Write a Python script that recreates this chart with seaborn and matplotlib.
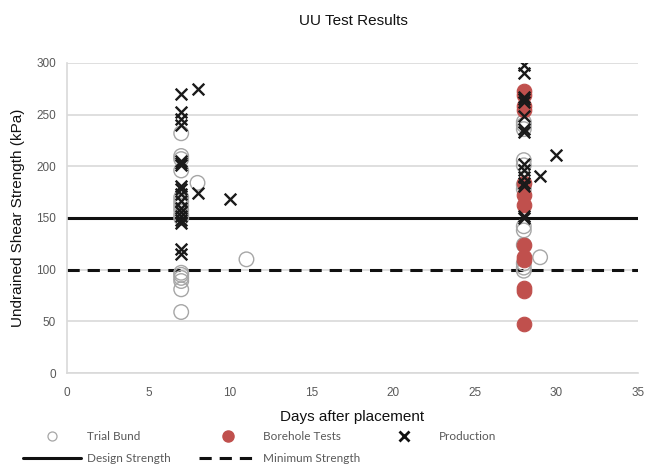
import matplotlib
matplotlib.use("Agg")
import matplotlib.pyplot as plt
from matplotlib.lines import Line2D
import seaborn as sns
import pandas as pd

# Trial bund tests (open circles)
trial_days = [7] * 16 + [8, 11] + [28] * 13 + [29]
trial_kpa = [232, 210, 207, 196, 170, 166, 162, 158, 153, 150, 97, 95, 92, 89, 81, 59,
             184, 110,
             243, 240, 236, 206, 201, 182, 178, 142, 138, 124, 106, 102, 99,
             112]

# Borehole tests (filled red circles)
bore_days = [28] * 13
bore_kpa = [273, 269, 258, 255, 184, 172, 163, 124, 112, 109, 82, 79, 47]

# Production tests (crosses)
prod_days = [7] * 18 + [8, 8, 10] + [28] * 15 + [30, 29]
prod_kpa = [270, 253, 246, 240, 205, 203, 201, 181, 178, 173, 166, 160, 156, 152, 148, 145, 120, 115,
            275, 174, 168,
            298, 290, 267, 265, 262, 249, 236, 233, 202, 196, 190, 184, 181, 152, 150,
            211, 191]

design_strength = 150
minimum_strength = 100

x_ticks = [0, 5, 10, 15, 20, 25, 30, 35]
y_ticks = [0, 50, 100, 150, 200, 250, 300]

sns.set_theme(style="white")
plt.rcParams["font.family"] = ["Liberation Sans", "DejaVu Sans"]

W, H = 645, 466
fig = plt.figure(figsize=(W / 100, H / 100), dpi=100)
ax = fig.add_axes([67 / W, 1 - 373 / H, (638 - 67) / W, (373 - 63) / H])

trial = pd.DataFrame({"day": trial_days, "kpa": trial_kpa})
bore = pd.DataFrame({"day": bore_days, "kpa": bore_kpa})
prod = pd.DataFrame({"day": prod_days, "kpa": prod_kpa})

red = "#c0504d"
sns.scatterplot(data=trial, x="day", y="kpa", ax=ax, marker="o", s=110,
                facecolor="none", edgecolor="#a6a6a6", linewidth=1.0, zorder=3)
sns.scatterplot(data=bore, x="day", y="kpa", ax=ax, marker="o", s=110,
                color=red, edgecolor=red, linewidth=0.8, zorder=4)
sns.scatterplot(data=prod, x="day", y="kpa", ax=ax, marker="x", s=70,
                color="#1a1a1a", linewidth=1.7, zorder=5)

ax.axhline(design_strength, color="#111111", lw=2.2, zorder=2.5)
ax.axhline(minimum_strength, color="#111111", lw=2.2, ls=(0, (4, 2.6)), zorder=2.5)

ax.set_xlim(0, 35)
ax.set_ylim(0, 300)
ax.set_xticks(x_ticks)
ax.set_yticks(y_ticks)
ax.yaxis.grid(True, color="#d9d9d9", lw=1.2)
ax.xaxis.grid(False)
ax.set_axisbelow(True)
for side in ["top", "right"]:
    ax.spines[side].set_visible(False)
for side in ["left", "bottom"]:
    ax.spines[side].set_color("#d9d9d9")
    ax.spines[side].set_linewidth(1.2)
ax.tick_params(axis="both", length=0, labelsize=8.5, labelcolor="#595959")
ax.tick_params(axis="x", pad=10)
ax.tick_params(axis="y", pad=8)

ax.set_xlabel("Days after placement", fontsize=11, color="#111111", labelpad=8)
ax.set_ylabel("Undrained Shear Strength (kPa)", fontsize=11, color="#111111", labelpad=8)
fig.text(0.5 * (67 + 638) / W + 0.002, 1 - 21 / H, "UU Test Results", ha="center", va="center",
         fontsize=11, color="#111111")

# Legend entries laid out on a grid below the plot
entries = [
    (Line2D([], [], ls="none", marker="o", ms=6.5, mfc="none", mec="#a6a6a6", mew=0.9),
     "Trial Bund", 27, 437),
    (Line2D([], [], ls="none", marker="o", ms=8, mfc=red, mec=red),
     "Borehole Tests", 203, 437),
    (Line2D([], [], ls="none", marker="x", ms=6.5, color="#111111", mew=2),
     "Production", 379, 437),
    (Line2D([], [], color="#111111", lw=2.2),
     "Design Strength", 27, 459),
    (Line2D([], [], color="#111111", lw=2.2, ls=(0, (4, 2.6))),
     "Minimum Strength", 203, 459),
]
for handle, label, px, py in entries:
    fig.legend([handle], [label], loc="center left",
               bbox_to_anchor=(px / W - 0.012, 1 - py / H), frameon=False,
               prop={"family": ["Lato", "DejaVu Sans"], "size": 8.5},
               labelcolor="#595959", handlelength=4.9,
               handletextpad=0.55, borderpad=0.3, borderaxespad=0)

fig.savefig("out.png", dpi=100)
